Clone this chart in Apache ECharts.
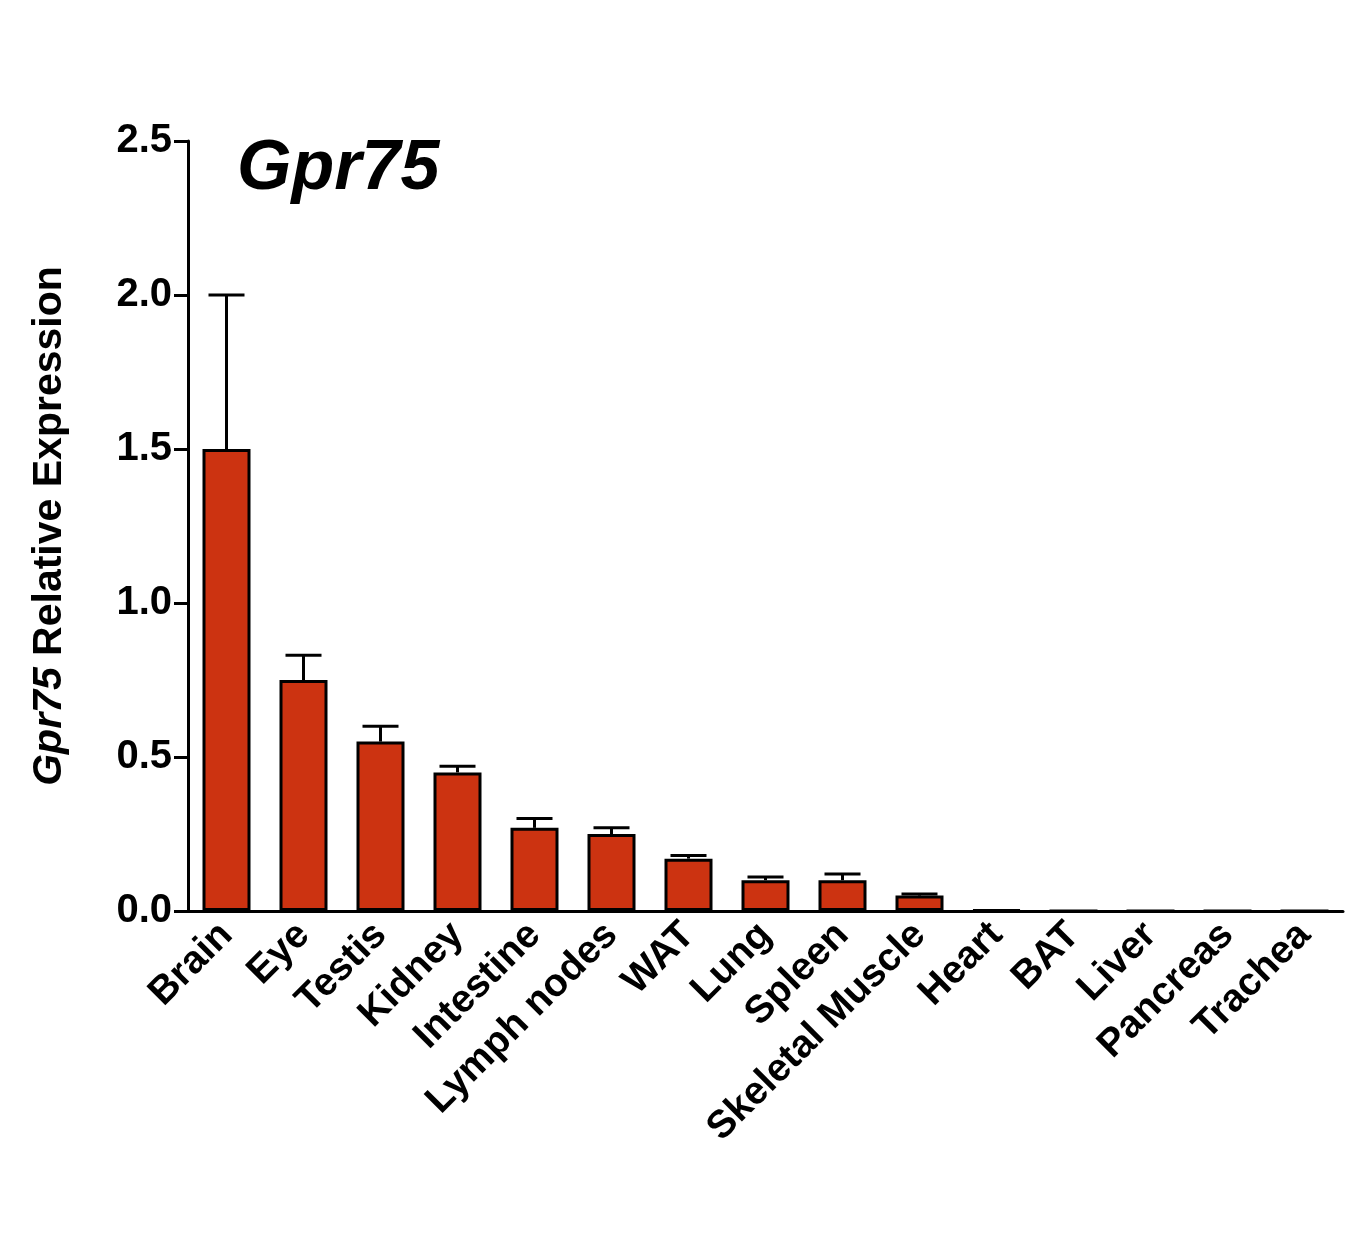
<!DOCTYPE html>
<html>
<head>
<meta charset="utf-8">
<script src="https://cdn.jsdelivr.net/npm/echarts@6/dist/echarts.min.js"></script>
<style>html,body{margin:0;background:#fff}#chart{width:1370px;height:1238px}</style>
</head>
<body>
<div id="chart"></div>
<script>
const tissues = ['Brain','Eye','Testis','Kidney','Intestine','Lymph nodes','WAT','Lung','Spleen','Skeletal Muscle','Heart','BAT','Liver','Pancreas','Trachea'];
const means = [1.5, 0.75, 0.55, 0.45, 0.27, 0.25, 0.17, 0.10, 0.10, 0.05, 0.003, 0, 0, 0, 0];
const errTops = [2.0, 0.83, 0.60, 0.47, 0.30, 0.27, 0.18, 0.11, 0.12, 0.055, 0.003, 0, 0, 0, 0];
const yTicks = ['0.0','0.5','1.0','1.5','2.0','2.5'];

const font = 'Liberation Sans, Arial, sans-serif';
const chart = echarts.init(document.getElementById('chart'));
chart.setOption({
  animation: false,
  title: {
    text: 'Gpr75', left: 232, top: 130,
    textStyle: {fontFamily: font, fontStyle: 'italic', fontWeight: 'bold', fontSize: 70, color: '#000'}
  },
  grid: {left: 188, right: 27, top: 141, bottom: 327},
  xAxis: {
    type: 'category', data: tissues,
    axisLine: {lineStyle: {color: '#000', width: 3}},
    axisTick: {alignWithLabel: true, length: 12, lineStyle: {width: 3, color: '#000'}},
    axisLabel: {rotate: 45, interval: 0, margin: 18, fontFamily: font, fontWeight: 'bold', fontSize: 39, color: '#000'}
  },
  yAxis: {
    type: 'value', min: 0, max: 2.5, interval: 0.5,
    name: '{i|Gpr75} Relative Expression', nameLocation: 'middle', nameGap: 118,
    nameTextStyle: {fontFamily: font, fontWeight: 'bold', fontSize: 41, color: '#000',
      rich: {i: {fontFamily: font, fontWeight: 'bold', fontStyle: 'italic', fontSize: 41, color: '#000'}}},
    axisLine: {show: true, lineStyle: {color: '#000', width: 3}},
    axisTick: {show: true, length: 14, lineStyle: {width: 3, color: '#000'}},
    splitLine: {show: false},
    axisLabel: {formatter: (v, i) => yTicks[i], margin: 16, fontFamily: font, fontWeight: 'bold', fontSize: 40, color: '#000'}
  },
  series: [
    {
      type: 'bar', data: means, barWidth: 48,
      itemStyle: {color: '#cc3311', borderColor: '#000', borderWidth: 3}
    },
    {
      type: 'custom', z: 1,
      data: tissues.map((t, i) => [i, means[i], errTops[i]]),
      renderItem: (params, api) => {
        if (api.value(2) <= api.value(1)) return null;
        const base = api.coord([api.value(0), api.value(1)]);
        const top = api.coord([api.value(0), api.value(2)]);
        const hw = 18;
        return {type: 'group', children: [
          {type: 'line', shape: {x1: base[0], y1: base[1], x2: top[0], y2: top[1]}, style: {stroke: '#000', lineWidth: 3}},
          {type: 'line', shape: {x1: top[0] - hw, y1: top[1], x2: top[0] + hw, y2: top[1]}, style: {stroke: '#000', lineWidth: 3}}
        ]};
      }
    }
  ]
});
</script>
</body>
</html>
